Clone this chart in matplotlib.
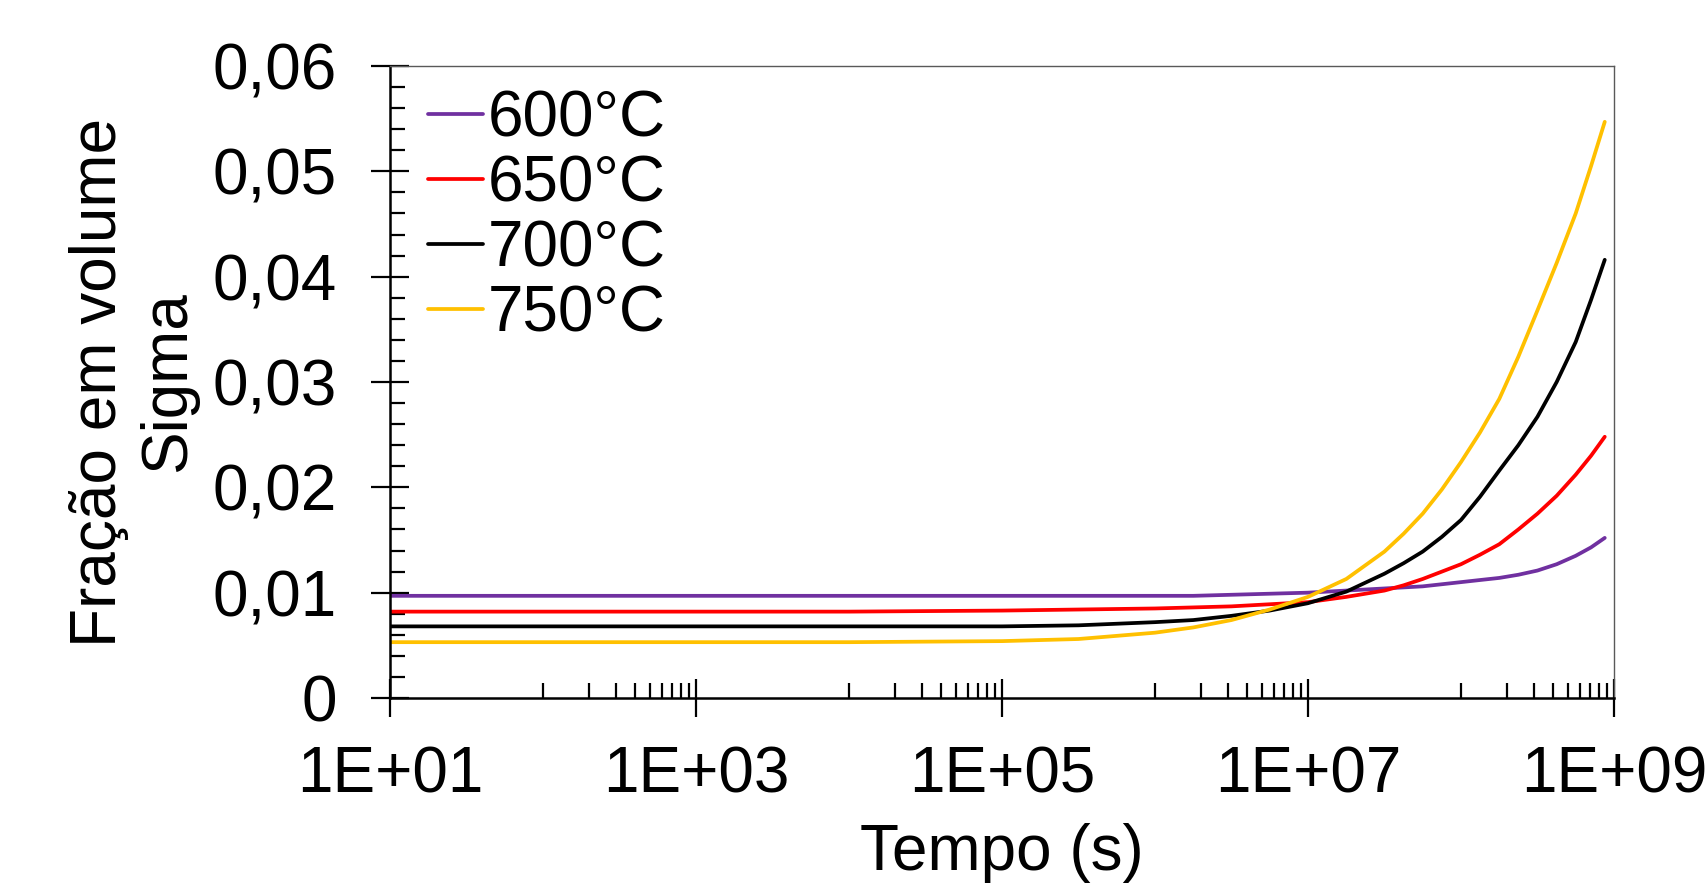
import matplotlib
matplotlib.use("Agg")
import matplotlib.pyplot as plt
from matplotlib.ticker import FixedLocator, FixedFormatter, NullFormatter

plt.rcParams['font.family'] = ['Liberation Sans', 'DejaVu Sans']

# Data
tempo_s = [1e1, 1e2, 1e3, 1e4, 1e5, 3.16e5, 1e6, 1.78e6, 3.16e6, 5.62e6,
           1e7, 1.78e7, 3.16e7, 4.22e7, 5.62e7, 7.5e7, 1e8, 1.33e8, 1.78e8, 2.37e8,
           3.16e8, 4.22e8, 5.62e8, 7.08e8, 8.7e8]

sigma_600 = [0.0097, 0.0097, 0.0097, 0.0097, 0.0097, 0.0097, 0.0097, 0.0097, 0.0098, 0.0099,
             0.0100, 0.0102, 0.0104, 0.0105, 0.0106, 0.0108, 0.0110, 0.0112, 0.0114, 0.0117,
             0.0121, 0.0127, 0.0135, 0.0143, 0.0152]
sigma_650 = [0.0082, 0.0082, 0.0082, 0.0082, 0.0083, 0.0084, 0.0085, 0.0086, 0.0087, 0.0089,
             0.0091, 0.0096, 0.0102, 0.0107, 0.0113, 0.0120, 0.0127, 0.0136, 0.0146, 0.0160,
             0.0175, 0.0192, 0.0212, 0.0230, 0.0248]
sigma_700 = [0.0068, 0.0068, 0.0068, 0.0068, 0.0068, 0.0069, 0.0072, 0.0074, 0.0078, 0.0083,
             0.0090, 0.0101, 0.0118, 0.0128, 0.0139, 0.0153, 0.0169, 0.0191, 0.0216, 0.0240,
             0.0267, 0.0300, 0.0338, 0.0378, 0.0416]
sigma_750 = [0.0053, 0.0053, 0.0053, 0.0053, 0.0054, 0.0056, 0.0062, 0.0067, 0.0074, 0.0084,
             0.0096, 0.0113, 0.0139, 0.0156, 0.0175, 0.0198, 0.0224, 0.0252, 0.0284, 0.0324,
             0.0368, 0.0413, 0.0460, 0.0505, 0.0547]

series_labels = ['600°C', '650°C', '700°C', '750°C']
series_colors = ['#7030A0', '#FF0000', '#000000', '#FFC000']

xtick_values = [1e1, 1e3, 1e5, 1e7, 1e9]
xtick_labels = ['1E+01', '1E+03', '1E+05', '1E+07', '1E+09']
ytick_values = [0, 0.01, 0.02, 0.03, 0.04, 0.05, 0.06]
ytick_labels = ['0', '0,01', '0,02', '0,03', '0,04', '0,05', '0,06']

W, H, DPI = 1706, 889, 100
fig = plt.figure(figsize=(W / DPI, H / DPI), dpi=DPI)
ax = fig.add_axes([390 / W, 1 - 698 / H, (1614 - 390) / W, (698 - 66) / H])

for ys, lab, col in zip([sigma_600, sigma_650, sigma_700, sigma_750], series_labels, series_colors):
    ax.plot(tempo_s, ys, color=col, lw=2.7, label=lab, solid_capstyle='round',
            solid_joinstyle='round')

ax.set_xscale('log')
ax.set_xlim(1e1, 1e9)
ax.set_ylim(0, 0.06)

ax.xaxis.set_major_locator(FixedLocator(xtick_values))
ax.xaxis.set_major_formatter(FixedFormatter(xtick_labels))
minor_x = []
for base in [1e2, 1e4, 1e6, 1e8]:
    for k in range(1, 10):
        minor_x.append(base * k)
ax.xaxis.set_minor_locator(FixedLocator(minor_x))
ax.xaxis.set_minor_formatter(NullFormatter())

ax.yaxis.set_major_locator(FixedLocator(ytick_values))
ax.yaxis.set_major_formatter(FixedFormatter(ytick_labels))
ax.yaxis.set_minor_locator(FixedLocator([i * 0.002 for i in range(31)]))
ax.yaxis.set_minor_formatter(NullFormatter())

FS = 46
ax.tick_params(axis='both', which='major', direction='inout', length=27, width=1.6,
               labelsize=FS, color='black')
ax.tick_params(axis='x', which='major', pad=21)
ax.tick_params(axis='y', which='major', pad=25)
ax.tick_params(axis='both', which='minor', direction='in', length=10.5, width=1.6, color='black')
ax.tick_params(top=False, right=False, which='both')

for s in ['left', 'bottom']:
    ax.spines[s].set_color('black')
    ax.spines[s].set_linewidth(1.8)
for s in ['top', 'right']:
    ax.spines[s].set_color('#595959')
    ax.spines[s].set_linewidth(1.0)

ax.set_xlabel('Tempo (s)', fontsize=FS, labelpad=12)
ax.set_ylabel('Fração em volume\nSigma', fontsize=FS, labelpad=10, linespacing=1.2)

leg = ax.legend(loc='upper left', bbox_to_anchor=(0.031, 0.963), frameon=False,
                fontsize=FS, handlelength=0.86, handletextpad=0.08,
                labelspacing=0.08, borderpad=0, borderaxespad=0)
for h in leg.get_lines():
    h.set_linewidth(2.7)

fig.savefig('out.png', dpi=DPI)
